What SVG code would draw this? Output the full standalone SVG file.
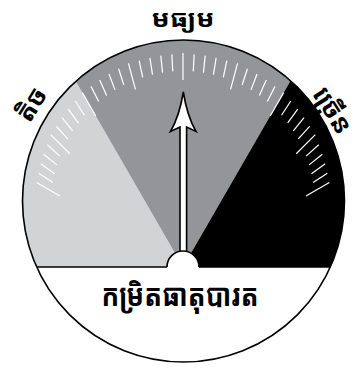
<svg xmlns="http://www.w3.org/2000/svg" width="361" height="369" viewBox="0 0 361 369">
<defs>
<clipPath id="dial"><circle cx="183.5" cy="201" r="161"/></clipPath>
<style>
.lbl{font-family:"Noto Sans Khmer","Khmer OS","Noto Serif Khmer","Liberation Sans",sans-serif;fill:#000;text-anchor:middle;font-weight:bold}
.tk line{stroke:#fff;stroke-width:1.2}
.edge{stroke:#000;stroke-width:1.6;fill:none}
</style>
</defs>
<g id="dial-face">
<circle cx="183.5" cy="201" r="161" fill="#fff"/>
<g clip-path="url(#dial)">
<polygon id="sector-low" points="183,267 -50,267 -17,-79.4" fill="#d1d3d4"/>
<polygon id="sector-mid" points="183,267 -17,-79.4 383,-79.4" fill="#939598"/>
<polygon id="sector-high" points="183,267 383,-79.4 420,267" fill="#000"/>
</g>
<circle class="edge" cx="183.5" cy="201" r="161"/>
<line class="edge" x1="36.6" y1="267" x2="167" y2="267"/>
<line class="edge" x1="199" y1="267" x2="330.4" y2="267"/>
</g>
<g id="ticks" class="tk" transform="translate(183,267)">
<line y1="-214" y2="-187"/>
<line y1="-212.9" y2="-195.9" transform="rotate(3)"/><line y1="-212.9" y2="-195.9" transform="rotate(-3)"/>
<line y1="-212.5" y2="-195.5" transform="rotate(6)"/><line y1="-212.5" y2="-195.5" transform="rotate(-6)"/>
<line y1="-211.8" y2="-194.8" transform="rotate(9)"/><line y1="-211.8" y2="-194.8" transform="rotate(-9)"/>
<line y1="-210.9" y2="-193.9" transform="rotate(12)"/><line y1="-210.9" y2="-193.9" transform="rotate(-12)"/>
<line y1="-210.8" y2="-183.8" transform="rotate(15)"/><line y1="-210.8" y2="-183.8" transform="rotate(-15)"/>
<line y1="-208.4" y2="-191.4" transform="rotate(18)"/><line y1="-208.4" y2="-191.4" transform="rotate(-18)"/>
<line y1="-206.7" y2="-189.7" transform="rotate(21)"/><line y1="-206.7" y2="-189.7" transform="rotate(-21)"/>
<line y1="-204.8" y2="-187.8" transform="rotate(24)"/><line y1="-204.8" y2="-187.8" transform="rotate(-24)"/>
<line y1="-202.7" y2="-185.7" transform="rotate(27)"/><line y1="-202.7" y2="-185.7" transform="rotate(-27)"/>
<line y1="-201.4" y2="-174.4" transform="rotate(30)"/><line y1="-201.4" y2="-174.4" transform="rotate(-30)"/>
<line y1="-197.9" y2="-180.9" transform="rotate(33)"/><line y1="-197.9" y2="-180.9" transform="rotate(-33)"/>
<line y1="-195.2" y2="-178.2" transform="rotate(36)"/><line y1="-195.2" y2="-178.2" transform="rotate(-36)"/>
<line y1="-192.3" y2="-175.3" transform="rotate(39)"/><line y1="-192.3" y2="-175.3" transform="rotate(-39)"/>
<line y1="-189.3" y2="-172.3" transform="rotate(42)"/><line y1="-189.3" y2="-172.3" transform="rotate(-42)"/>
<line y1="-187.1" y2="-160.1" transform="rotate(45)"/><line y1="-187.1" y2="-160.1" transform="rotate(-45)"/>
<line y1="-182.7" y2="-165.7" transform="rotate(48)"/><line y1="-182.7" y2="-165.7" transform="rotate(-48)"/>
<line y1="-179.3" y2="-162.3" transform="rotate(51)"/><line y1="-179.3" y2="-162.3" transform="rotate(-51)"/>
<line y1="-175.8" y2="-158.8" transform="rotate(54)"/><line y1="-175.8" y2="-158.8" transform="rotate(-54)"/>
<line y1="-172.1" y2="-155.1" transform="rotate(57)"/><line y1="-172.1" y2="-155.1" transform="rotate(-57)"/>
<line y1="-169" y2="-142" transform="rotate(60)"/><line y1="-169" y2="-142" transform="rotate(-60)"/>
</g>
<g id="needle">
<path d="M183.3,92 Q179.5,116 170.5,131.5 L180,127 L180,258 L186.6,258 L186.6,127 L196,131.5 Q187.1,116 183.3,92 Z" fill="#fff" stroke="#000" stroke-width="1.6" stroke-linejoin="miter"/>
</g>
<g id="hub">
<path d="M167,267 A16,16 0 0 1 199,267" fill="#fff" stroke="#000" stroke-width="1.6"/>
</g>
<g id="label-medium"><text class="lbl" x="183" y="27" font-size="24" textLength="63" lengthAdjust="spacingAndGlyphs">មធ្យម</text></g>
<g id="label-low"><text class="lbl" x="0" y="0" font-size="26" transform="translate(39,109) rotate(-58)">តិច</text></g>
<g id="label-high"><text class="lbl" x="0" y="0" font-size="26" transform="translate(325,115) rotate(58)">ច្រើន</text></g>
<g id="label-title"><text class="lbl" x="180" y="306" font-size="31" textLength="157" lengthAdjust="spacingAndGlyphs">កម្រិតធាតុបារត</text></g>
</svg>
